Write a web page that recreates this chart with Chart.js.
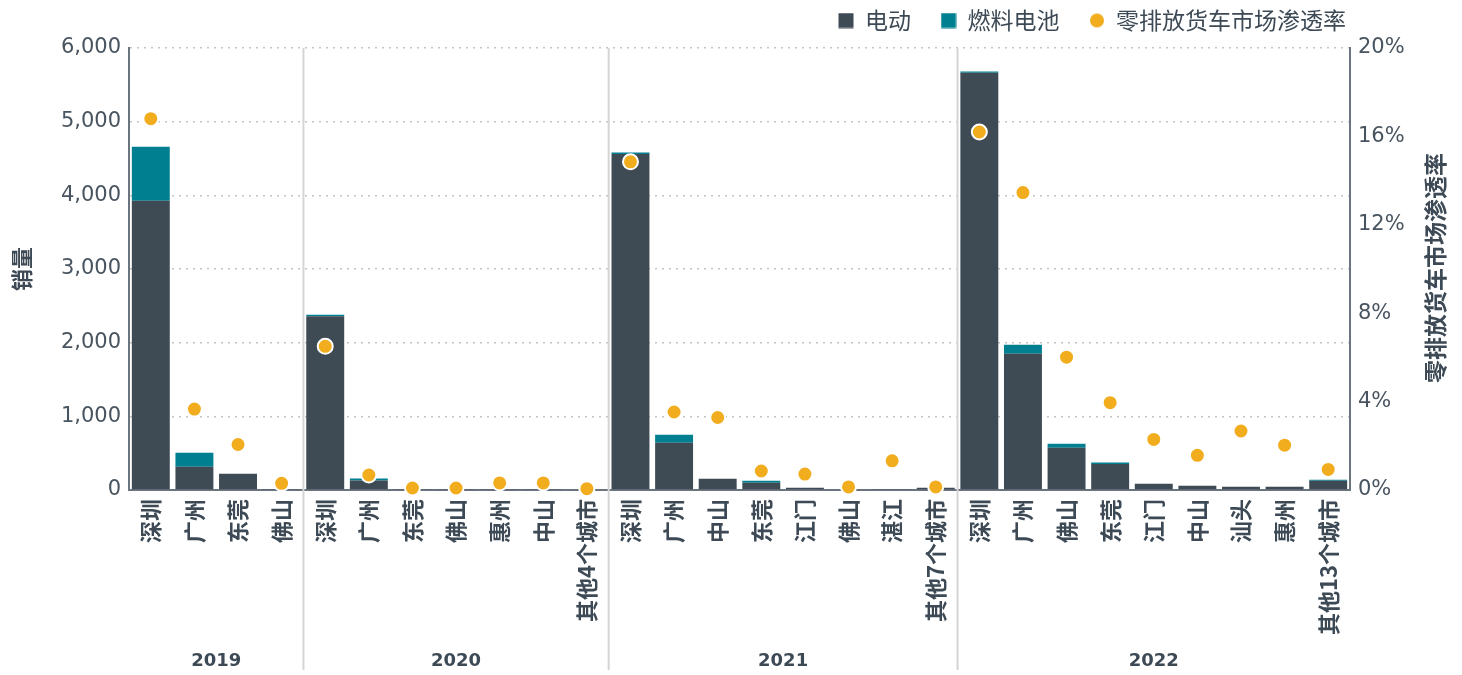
<!DOCTYPE html>
<html>
<head>
<meta charset="utf-8">
<script src="https://cdn.jsdelivr.net/npm/chart.js@4"></script>
<style>
  html, body { margin: 0; padding: 0; background: #fff; }
  .container { width: 1462px; height: 675px; position: relative; }
</style>
</head>
<body>
<div class="container"><canvas id="chart"></canvas></div>
<script>
// 城市（按年份分组）
const cities = [
  '深圳', '广州', '东莞', '佛山',
  '深圳', '广州', '东莞', '佛山', '惠州', '中山', '其他4个城市',
  '深圳', '广州', '中山', '东莞', '江门', '佛山', '湛江', '其他7个城市',
  '深圳', '广州', '佛山', '东莞', '江门', '中山', '汕头', '惠州', '其他13个城市'
];
const years = ['2019', '2020', '2021', '2022'];
const yearSizes = [4, 7, 8, 9];

// 销量
const electric = [
  3925, 316, 221, 6,
  2360, 130, 12, 8, 12, 15, 10,
  4560, 642, 153, 100, 32, 10, 8, 30,
  5665, 1851, 574, 352, 85, 58, 45, 45, 127
];
const fuelCell = [
  735, 190, 0, 0,
  20, 25, 0, 0, 0, 0, 0,
  20, 108, 0, 26, 0, 0, 0, 0,
  15, 122, 54, 20, 0, 0, 0, 0, 13
];
// 零排放货车市场渗透率 (%)
const share = [
  16.8, 3.66, 2.06, 0.30,
  6.5, 0.68, 0.09, 0.09, 0.32, 0.32, 0.06,
  14.85, 3.53, 3.28, 0.86, 0.72, 0.14, 1.32, 0.14,
  16.2, 13.46, 6.01, 3.95, 2.29, 1.57, 2.67, 2.03, 0.93
];

const DARK = '#3e4a54';
const TEAL = '#007f91';
const ORANGE = '#f2ad1e';
const TEXT = '#3d4a55';
const AXIS = '#6b7580';
const CJK = '"Noto Sans CJK SC", sans-serif';
const NUM = '"DejaVu Sans", sans-serif';

Chart.defaults.color = TEXT;
Chart.defaults.font.family = NUM;

// 图例小方块 / 圆点
function swatch(color, round) {
  const c = document.createElement('canvas');
  c.width = 16; c.height = 16;
  const g = c.getContext('2d');
  g.fillStyle = color;
  if (round) { g.beginPath(); g.arc(8, 8, 7, 0, Math.PI * 2); g.fill(); }
  else g.fillRect(0.5, 0.5, 15, 15);
  return c;
}
const swatches = [swatch(DARK), swatch(TEAL), swatch(ORANGE, true)];

// 年份分隔线、年份标签、右轴标题
const decor = {
  id: 'decor',
  afterLayout(chart) {
    const lg = chart.legend;
    lg.top = -21;
    lg.bottom = 60;
    lg.right = 1376;
  },
  beforeDatasetsDraw(chart) {
    const { ctx, chartArea, scales: { x } } = chart;
    ctx.save();
    ctx.strokeStyle = '#d5d5d5';
    ctx.lineWidth = 2;
    let idx = 0;
    yearSizes.slice(0, -1).forEach(n => {
      idx += n;
      const px = (x.getPixelForValue(idx - 1) + x.getPixelForValue(idx)) / 2;
      ctx.beginPath();
      ctx.moveTo(px, chartArea.top);
      ctx.lineTo(px, 670);
      ctx.stroke();
    });
    ctx.restore();
  },
  afterDraw(chart) {
    const { ctx, chartArea, scales: { x } } = chart;
    ctx.save();
    ctx.fillStyle = TEXT;
    ctx.font = 'bold 18px ' + NUM;
    ctx.textAlign = 'center';
    ctx.textBaseline = 'middle';
    let idx = 0;
    years.forEach((yr, i) => {
      const n = yearSizes[i];
      const left = i === 0 ? chartArea.left : (x.getPixelForValue(idx - 1) + x.getPixelForValue(idx)) / 2;
      const right = i === years.length - 1 ? chartArea.right : (x.getPixelForValue(idx + n - 1) + x.getPixelForValue(idx + n)) / 2;
      ctx.fillText(yr, (left + right) / 2, 661);
      idx += n;
    });
    // 右轴标题（自下而上）
    ctx.translate(1435, 268);
    ctx.rotate(-Math.PI / 2);
    ctx.font = 'bold 23px ' + CJK;
    ctx.fillText('零排放货车市场渗透率', 0, 0);
    ctx.restore();
  }
};

const ctx = document.getElementById('chart').getContext('2d');
const chart = new Chart(ctx, {
  type: 'bar',
  data: {
    labels: cities,
    datasets: [
      { label: '电动', data: electric, backgroundColor: DARK, stack: 's', order: 1 },
      { label: '燃料电池', data: fuelCell, backgroundColor: TEAL, stack: 's', order: 1 },
      {
        type: 'line', label: '零排放货车市场渗透率', data: share, yAxisID: 'y1', order: 0,
        showLine: false, clip: false,
        pointStyle: 'circle', pointRadius: 7.5, pointHoverRadius: 7.5,
        pointBackgroundColor: ORANGE, pointBorderColor: '#fff', pointBorderWidth: 2,
        backgroundColor: ORANGE, borderColor: ORANGE
      }
    ]
  },
  plugins: [decor],
  options: {
    responsive: true,
    maintainAspectRatio: false,
    animation: false,
    datasets: { bar: { barPercentage: 0.87, categoryPercentage: 1 } },
    layout: { padding: 0 },
    plugins: {
      tooltip: { enabled: false },
      legend: {
        position: 'top',
        align: 'end',
        maxHeight: 48,
        labels: {
          usePointStyle: true,
          boxWidth: 15,
          boxHeight: 15,
          padding: 30,
          color: TEXT,
          font: { family: CJK, size: 23 },
          sort: (a, b) => a.datasetIndex - b.datasetIndex,
          generateLabels: (c) => Chart.defaults.plugins.legend.labels.generateLabels(c).map(it => {
            it.pointStyle = swatches[it.datasetIndex];
            return it;
          })
        }
      }
    },
    scales: {
      x: {
        stacked: true,
        afterFit: s => { s.height = 185; },
        grid: { display: false, drawTicks: false },
        border: { color: AXIS, width: 2 },
        ticks: {
          autoSkip: false, minRotation: 90, maxRotation: 90, padding: 9,
          color: TEXT, font: { family: CJK, size: 22, weight: 'bold' }
        }
      },
      y: {
        stacked: true,
        position: 'left',
        min: 0, max: 6000,
        afterFit: s => { s.width = 129; },
        grid: { color: '#c4c4c4', lineWidth: 1.5, drawTicks: false },
        border: { color: AXIS, width: 2, dash: [2, 5] },
        ticks: { stepSize: 1000, padding: 8, color: '#48545f', font: { size: 21 } },
        title: { display: true, text: '销量', color: TEXT, padding: 8, font: { family: CJK, size: 22, weight: 'bold' } }
      },
      y1: {
        position: 'right',
        min: 0, max: 20,
        afterFit: s => { s.width = 112; },
        grid: { display: false, drawTicks: false },
        border: { color: AXIS, width: 2 },
        ticks: { stepSize: 4, padding: 8, color: '#48545f', font: { size: 21 }, callback: v => v + '%' }
      }
    }
  }
});
</script>
</body>
</html>
